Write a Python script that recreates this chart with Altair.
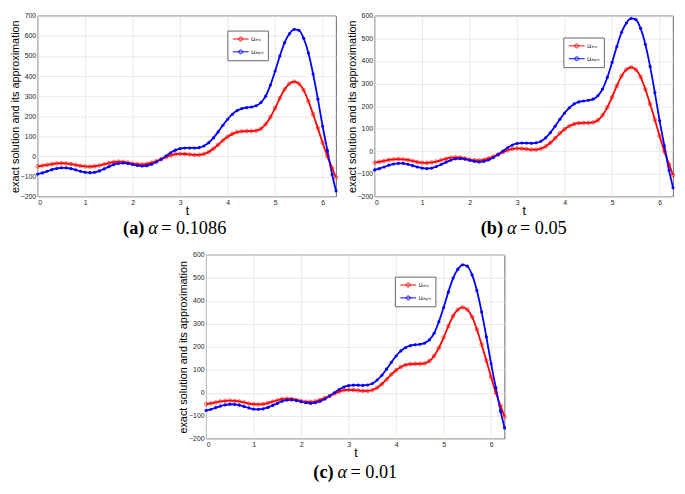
import altair as alt
import pandas as pd

# ---------------- data ----------------
t = [0.0, 0.1, 0.2, 0.3, 0.4, 0.5, 0.6, 0.7, 0.8, 0.9,
     1.0, 1.1, 1.2, 1.3, 1.4, 1.5, 1.6, 1.7, 1.8, 1.9,
     2.0, 2.1, 2.2, 2.3, 2.4, 2.5, 2.6, 2.7, 2.8, 2.9,
     3.0, 3.1, 3.2, 3.3, 3.4, 3.5, 3.6, 3.7, 3.8, 3.9,
     4.0, 4.1, 4.2, 4.3, 4.4, 4.5, 4.6, 4.7, 4.8, 4.9,
     5.0, 5.1, 5.2, 5.3, 5.4, 5.5, 5.6, 5.7, 5.8, 5.9,
     6.0, 6.1, 6.2, 6.283]

u_ex = [-50, -46, -42, -38, -35, -34, -35, -38, -42, -47,
        -50, -51, -49, -45, -39, -33, -28, -26, -27, -31,
        -36, -39, -40, -37, -31, -23, -14, -4, 5, 11,
        13, 12, 10, 8, 8, 12, 22, 38, 58, 80,
        98, 112, 121, 125, 126, 126, 128, 138, 160, 195,
        240, 290, 334, 362, 372, 362, 330, 275, 210, 140,
        68, 0, -58, -105]

u_eps_a = [-88, -82, -74, -66, -60, -57, -57, -61, -67, -74,
           -79, -81, -79, -72, -62, -51, -41, -35, -33, -35,
           -40, -45, -48, -46, -39, -28, -14, 2, 18, 31,
           39, 42, 42, 42, 44, 52, 68, 92, 122, 155,
           185, 210, 228, 238, 243, 246, 252, 268, 300, 355,
           425, 500, 566, 610, 632, 628, 588, 515, 410, 285,
           150, 30, -90, -172]

u_eps_b = [-82, -76, -69, -61, -56, -53, -53, -57, -63, -69,
           -74, -76, -74, -67, -58, -48, -39, -33, -32, -34,
           -39, -44, -47, -44, -38, -27, -14, 1, 16, 28,
           35, 37, 37, 36, 38, 45, 60, 83, 111, 142,
           170, 193, 210, 219, 223, 226, 231, 246, 276, 328,
           394, 464, 527, 568, 588, 583, 544, 474, 376, 260,
           136, 25, -85, -161]

u_eps_c = [-77, -72, -65, -58, -53, -50, -51, -54, -60, -66,
           -71, -72, -70, -64, -55, -46, -37, -32, -31, -34,
           -39, -43, -46, -43, -37, -27, -14, 0, 14, 25,
           31, 33, 33, 32, 34, 40, 55, 76, 103, 133,
           160, 182, 197, 205, 209, 211, 216, 230, 259, 309,
           371, 439, 499, 538, 557, 551, 513, 445, 352, 243,
           126, 21, -81, -153]

series_names = ["uₑₓ", "uₑₚₛ"]
series_colors = ["#ff0000", "#0000ff"]
panel_letters = ["(a)", "(b)", "(c)"]
panel_alphas = ["= 0.1086", "= 0.05", "= 0.01"]
y_tops = [700, 600, 600]
x_ticks = [0, 1, 2, 3, 4, 5, 6]
Y_TITLE = "exact solution and its approximation"

SANS = "Liberation Sans"
SERIF = "Liberation Serif"
CAP_SIZE = 18.5

LEG_PATH = "M-2,0H2M-0.5,0A0.5,0.5 0 1 0 0.5,0A0.5,0.5 0 1 0 -0.5,0"


def make_df(eps):
    rows = []
    for ti, v in zip(t, u_ex):
        rows.append({"t": ti, "u": v, "series": series_names[0]})
    for ti, v in zip(t, eps):
        rows.append({"t": ti, "u": v, "series": series_names[1]})
    return pd.DataFrame(rows)


def panel(eps, ytop, letter, alpha, w, h, legx, legy, cap_dy, cap_x):
    df = make_df(eps)
    x = alt.X("t:Q",
              scale=alt.Scale(domain=[0, 6.2832], nice=False, zero=False),
              axis=alt.Axis(values=x_ticks, title="t", format="d"))
    y = alt.Y("u:Q",
              scale=alt.Scale(domain=[-200, ytop], nice=False, zero=False),
              axis=alt.Axis(values=list(range(-200, ytop + 1, 100)),
                            title=Y_TITLE, format="d"))
    color = alt.Color("series:N",
                      scale=alt.Scale(domain=series_names, range=series_colors),
                      legend=alt.Legend(orient="none", legendX=legx, legendY=legy,
                                        title=None, symbolType=LEG_PATH,
                                        symbolSize=64, symbolStrokeWidth=1,
                                        symbolOffset=5, labelOffset=6,
                                        labelFont="DejaVu Sans", labelFontSize=7,
                                        labelColor="#262626",
                                        padding=4, rowPadding=4,
                                        strokeColor="#666666", fillColor="white"))
    base = alt.Chart(df)
    lines = base.mark_line(strokeWidth=1.8, interpolate="monotone").encode(
        x=x, y=y, color=color)
    pts_ex = base.transform_filter(alt.datum.series == series_names[0]).mark_point(
        shape="circle", filled=False, size=13, strokeWidth=0.9,
        color=series_colors[0]).encode(x=x, y=y)
    pts_eps = base.transform_filter(alt.datum.series == series_names[1]).mark_point(
        shape="circle", filled=True, size=10, opacity=1,
        color=series_colors[1]).encode(x=x, y=y)

    cap = alt.Chart(pd.DataFrame({"k": [0]}))
    cy = h + cap_dy
    c1 = cap.mark_text(text=letter, font=SERIF, fontSize=CAP_SIZE, fontWeight="bold",
                       align="right", baseline="middle", color="black").encode(
        x=alt.value(cap_x), y=alt.value(cy))
    c2 = cap.mark_text(text="α", font=SERIF, fontSize=CAP_SIZE, fontStyle="italic",
                       align="left", baseline="middle", color="black").encode(
        x=alt.value(cap_x + 4), y=alt.value(cy))
    c3 = cap.mark_text(text=alpha, font=SERIF, fontSize=CAP_SIZE,
                       align="left", baseline="middle", color="black").encode(
        x=alt.value(cap_x + 17), y=alt.value(cy))

    return alt.layer(lines, pts_ex, pts_eps, c1, c2, c3).properties(
        width=w, height=h,
        view=alt.ViewBackground(stroke="#444444", strokeWidth=0.8))


W = 302
pa = panel(u_eps_a, y_tops[0], panel_letters[0], panel_alphas[0], W, 183, 192, 15, 32, 108)
pb = panel(u_eps_b, y_tops[1], panel_letters[1], panel_alphas[1], W, 183, 191, 22, 32, 130)
pc = panel(u_eps_c, y_tops[2], panel_letters[2], panel_alphas[2], W, 186, 191, 22, 34, 129)

top = alt.hconcat(pa, pb, spacing=5).resolve_scale(
    color="independent").resolve_legend(color="independent")

chart = alt.vconcat(top, pc, spacing=12, center=True).resolve_scale(
    color="independent").resolve_legend(color="independent").properties(
    padding=0,
    background="white"
).configure_axis(
    labelFont=SANS, labelFontSize=7, labelColor="#262626", labelPadding=2,
    grid=True, gridColor="#e3e3e3", gridWidth=0.8,
    domain=False, ticks=False,
    titleFont=SANS, titleFontWeight="normal", titleColor="black"
).configure_axisX(
    titleFontSize=12.5, titlePadding=-1
).configure_axisY(
    titleFontSize=11, titlePadding=0
)

chart.save("out.html", embed_options={"renderer": "svg", "actions": False})
